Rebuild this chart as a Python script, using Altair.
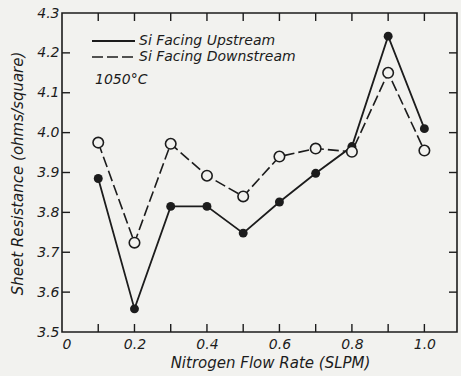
import altair as alt
import pandas as pd

flow = [0.1, 0.2, 0.3, 0.4, 0.5, 0.6, 0.7, 0.8, 0.9, 1.0]
upstream = [3.885, 3.558, 3.815, 3.815, 3.748, 3.826, 3.898, 3.965, 4.242, 4.01]
downstream = [3.975, 3.724, 3.972, 3.892, 3.84, 3.94, 3.96, 3.952, 4.15, 3.955]

x_tick_values = [0.1, 0.2, 0.3, 0.4, 0.5, 0.6, 0.7, 0.8, 0.9, 1.0]
x_label_values = [0, 0.2, 0.4, 0.6, 0.8, 1.0]
y_tick_values = [3.6, 3.7, 3.8, 3.9, 4.0, 4.1, 4.2]
y_label_values = [3.5, 3.6, 3.7, 3.8, 3.9, 4.0, 4.1, 4.2, 4.3]

INK = "#1c1c1c"
PAPER = "#f2f2ef"
FONT = "DejaVu Sans"
W, H = 395, 319
X_MIN, X_MAX = 0, 1.09
Y_MIN, Y_MAX = 3.5, 4.3

up_df = pd.DataFrame({"flow": flow, "r": upstream})
down_df = pd.DataFrame({"flow": flow, "r": downstream})
bottom_df = pd.DataFrame({"flow": x_tick_values, "r": Y_MIN})
top_df = pd.DataFrame({"flow": x_tick_values, "r": Y_MAX})
left_df = pd.DataFrame({"flow": X_MIN, "r": y_tick_values})
right_df = pd.DataFrame({"flow": X_MAX, "r": y_tick_values})

xscale = alt.Scale(domain=[X_MIN, X_MAX], nice=False, zero=False)
yscale = alt.Scale(domain=[Y_MIN, Y_MAX], nice=False, zero=False)

xaxis = alt.Axis(
    values=x_label_values,
    labelExpr="datum.value == 0 ? '0' : format(datum.value, '.1f')",
    ticks=False, domain=False, grid=False, labelOverlap=False, orient="bottom",
    labelFont=FONT, labelFontStyle="italic", labelFontSize=14, labelColor=INK,
    labelPadding=5,
    title="Nitrogen Flow Rate (SLPM)",
    titleFont=FONT, titleFontStyle="italic", titleFontWeight="normal", titleFontSize=15,
    titleColor=INK, titleX=208, titleY=30, titleBaseline="middle",
)
yaxis = alt.Axis(
    values=y_label_values, format=".1f",
    ticks=False, domain=False, grid=False, labelOverlap=False, orient="left",
    labelFont=FONT, labelFontStyle="italic", labelFontSize=14, labelColor=INK,
    labelPadding=3,
    title="Sheet Resistance (ohms/square)",
    titleFont=FONT, titleFontStyle="italic", titleFontWeight="normal", titleFontSize=15,
    titleColor=INK, titleX=-45, titleY=160, titleBaseline="middle", titleAngle=-90,
)

XA = alt.X("flow:Q", scale=xscale, axis=xaxis)
YA = alt.Y("r:Q", scale=yscale, axis=yaxis)

up_line = alt.Chart(up_df).mark_line(color=INK, strokeWidth=1.8).encode(x=XA, y=YA)
down_line = alt.Chart(down_df).mark_line(color=INK, strokeWidth=1.6, strokeDash=[11, 4]).encode(x=XA, y=YA)
up_pts = alt.Chart(up_df).mark_circle(color=INK, opacity=1, size=80).encode(x=XA, y=YA)
down_pts = alt.Chart(down_df).mark_point(
    filled=True, fill=PAPER, stroke=INK, strokeWidth=1.6, opacity=1, size=110, shape="circle"
).encode(x=XA, y=YA)

# inward tick marks drawn as short line symbols (8 px long)
tick_style = dict(filled=False, color=INK, strokeWidth=1.4, opacity=1, size=256)
bottom_ticks = alt.Chart(bottom_df).mark_point(shape="M0,0L0,-1", **tick_style).encode(x=XA, y=YA)
top_ticks = alt.Chart(top_df).mark_point(shape="M0,0L0,1", **tick_style).encode(x=XA, y=YA)
left_ticks = alt.Chart(left_df).mark_point(shape="M0,0L1,0", **tick_style).encode(x=XA, y=YA)
right_ticks = alt.Chart(right_df).mark_point(shape="M0,0L-1,0", **tick_style).encode(x=XA, y=YA)

leg_solid = alt.Chart(pd.DataFrame({"k": [0]})).mark_rule(color=INK, strokeWidth=1.8).encode(
    x=alt.value(30), x2=alt.value(73), y=alt.value(28))
leg_dash = alt.Chart(pd.DataFrame({"k": [0]})).mark_rule(
    color=INK, strokeWidth=1.6, strokeDash=[11, 4]).encode(
    x=alt.value(30), x2=alt.value(73), y=alt.value(44))

text_style = dict(font=FONT, fontStyle="italic", fontSize=14, color=INK, align="left", baseline="middle")
leg_t1 = alt.Chart(pd.DataFrame({"t": ["Si Facing Upstream"]})).mark_text(**text_style).encode(
    text="t:N", x=alt.value(77), y=alt.value(28))
leg_t2 = alt.Chart(pd.DataFrame({"t": ["Si Facing Downstream"]})).mark_text(**text_style).encode(
    text="t:N", x=alt.value(77), y=alt.value(44))
temp_t = alt.Chart(pd.DataFrame({"t": ["1050°C"]})).mark_text(**text_style).encode(
    text="t:N", x=alt.value(33), y=alt.value(67))

chart = alt.layer(
    up_line, down_line, up_pts, down_pts,
    bottom_ticks, top_ticks, left_ticks, right_ticks,
    leg_solid, leg_dash, leg_t1, leg_t2, temp_t,
).properties(
    width=W, height=H,
    autosize=alt.AutoSizeParams(type="none"),
    padding={"left": 62, "top": 13, "right": 4, "bottom": 44},
    background=PAPER,
).configure_view(
    stroke=INK, strokeWidth=1.6, fill=PAPER,
)

chart.save("out.html", embed_options={"renderer": "svg", "actions": False})
